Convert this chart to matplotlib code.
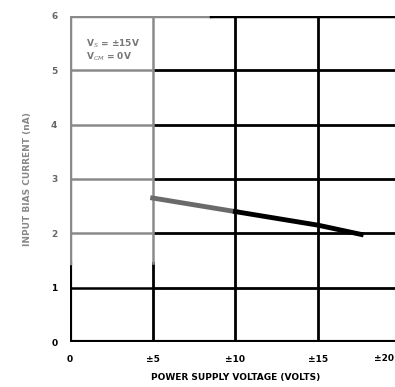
import matplotlib.pyplot as plt

# supply voltage (+/- volts) vs input bias current (nA)
supply_v = [5, 10, 15, 17.6]
bias_na = [2.65, 2.4, 2.15, 1.98]

x_ticks = [0, 5, 10, 15, 20]
x_labels = ['0', '±5', '±10', '±15', '±20']
y_ticks = [0, 1, 2, 3, 4, 5, 6]

fig = plt.figure(figsize=(3.95, 3.87), dpi=100)
ax = fig.add_axes([0.177, 0.116, 0.838, 0.843])
ax.set_xlim(0, 20)
ax.set_ylim(0, 6)

# grid, drawn by hand so the faded (grey) scan region can be kept
for y in y_ticks[1:]:
    c = '#8a8a8a' if y >= 2 else 'black'
    ax.plot([0, 5], [y, y], color=c, lw=1.8, solid_capstyle='butt')
    ax.plot([5, 20], [y, y], color='black', lw=2, solid_capstyle='butt')
ax.plot([0, 20], [0, 0], color='black', lw=3)
ax.plot([0, 0], [0, 1.45], color='black', lw=3)
ax.plot([0, 0], [1.45, 6], color='#8a8a8a', lw=2.5)
ax.plot([5, 5], [0, 1.45], color='black', lw=2)
ax.plot([5, 5], [1.45, 6], color='#8a8a8a', lw=1.8)
for x in x_ticks[2:]:
    ax.plot([x, x], [0, 6], color='black', lw=2)
ax.plot([0, 8.5], [6, 6], color='#8a8a8a', lw=2.5)
ax.plot([8.5, 20], [6, 6], color='black', lw=2.5)

ax.plot(supply_v[:2], bias_na[:2], color='#6a6a6a', lw=3.5)
ax.plot(supply_v[1:], bias_na[1:], color='black', lw=3.5)

for s in ax.spines.values():
    s.set_visible(False)
ax.set_xticks(x_ticks[:-1])
ax.set_xticklabels(x_labels[:-1], fontsize=6.5, fontweight='heavy')
# last label sits at the right edge of the (cropped) scan
ax.text(19.6, -0.3, x_labels[-1], fontsize=6.5, fontweight='heavy',
        ha='right', va='center', clip_on=False)
ax.set_yticks(y_ticks)
ax.set_yticklabels([str(v) for v in y_ticks], fontsize=6.5, fontweight='heavy')
ax.tick_params(length=0, pad=9)
for lab in ax.get_yticklabels()[2:]:
    lab.set_color('#666666')

ax.text(1.0, 5.6, 'V$_S$ = ±15V\nV$_{CM}$ = 0V', fontsize=6.5, fontweight='bold',
        color='#777777', va='top', linespacing=1.0)
ax.set_xlabel('POWER SUPPLY VOLTAGE (VOLTS)', fontsize=6.5, fontweight='heavy', labelpad=7)
ax.set_ylabel('INPUT BIAS CURRENT (nA)', fontsize=6.5, fontweight='bold', color='#888888', labelpad=14)

fig.savefig('out.png', dpi=100)
